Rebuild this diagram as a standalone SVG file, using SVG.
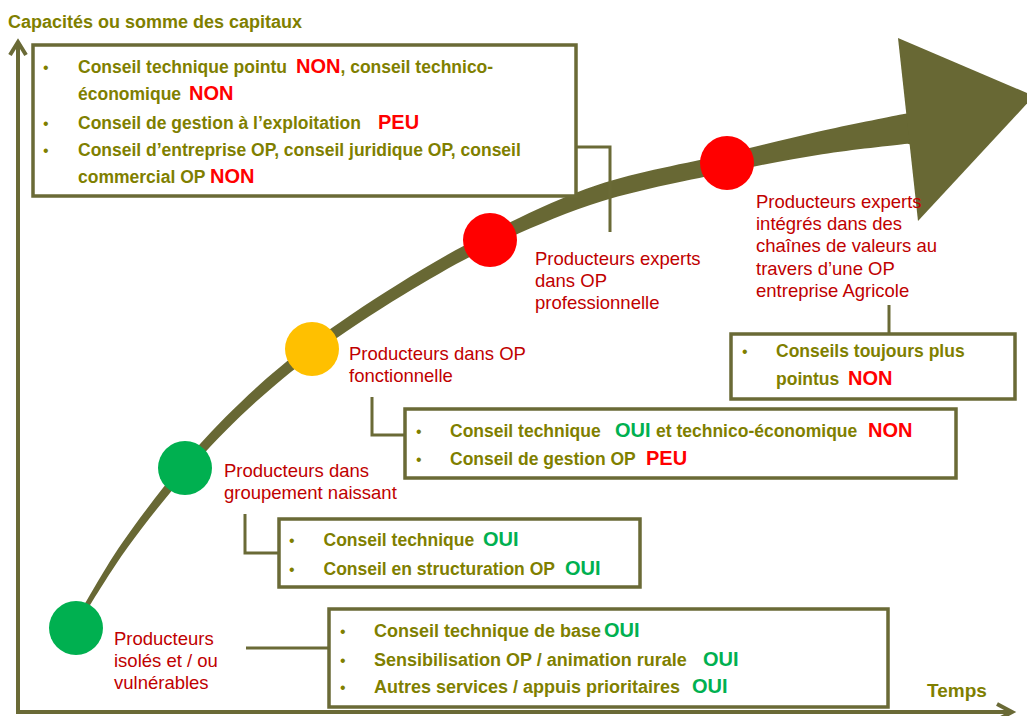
<svg xmlns="http://www.w3.org/2000/svg" width="1027" height="716" viewBox="0 0 1027 716">
  <style>
    .axis { fill: none; stroke: #6a6a36; stroke-width: 4; stroke-linejoin: miter; }
    .box { fill: #ffffff; stroke: #6a6a36; stroke-width: 3.5; }
    .conn { fill: none; stroke: #6a6a36; stroke-width: 3; }
    .t { font-family: "Liberation Sans", Arial, sans-serif; font-weight: bold; font-size: 17.5px; fill: #7f7f00; }
    .tb { font-size: 18px; }
    .r { fill: #ff0000; font-size: 20px; }
    .g { fill: #00b050; font-size: 20px; }
    .bul { font-family: "Liberation Sans", Arial, sans-serif; font-size: 16px; fill: #7f7f00; }
    .lbl { font-family: "Liberation Sans", Arial, sans-serif; font-size: 18.5px; fill: #c00000; }
    .title { font-family: "Liberation Sans", Arial, sans-serif; font-weight: bold; font-size: 18px; fill: #7f7f00; }
  </style>

  <rect width="1027" height="716" fill="#ffffff"/>

  <!-- Axes -->
  <g id="axes">
    <polyline class="axis" points="18,43 18,712 1012,712"/>
    <polyline class="axis" points="10,55 18,42 26,55"/>
    <polyline class="axis" points="997,704 1012,712 997,720"/>
    <text class="title" x="8" y="28">Capacités ou somme des capitaux</text>
    <text class="title" x="927" y="697" style="font-size:19px">Temps</text>
  </g>

  <!-- Growth trajectory: tapered band ending in a large arrowhead -->
  <g id="trajectory" fill="#686834">
    <path d="M81.9,608.7
      C88.6,597.8 105.5,566.9 122.1,543.0
      C138.7,519.1 161.7,488.7 181.6,465.1
      C201.5,441.5 220.4,421.5 241.6,401.4
      C262.8,381.3 282.8,364.0 308.7,344.6
      C334.6,325.2 367.3,303.3 396.9,284.9
      C426.5,266.5 452.7,250.9 486.1,234.2
      C519.5,217.5 557.6,198.2 597.4,184.9
      C637.2,171.6 688.3,163.1 725.0,154.2
      C761.7,145.3 788.2,138.4 817.8,131.7
      C847.4,125.0 888.4,117.1 902.5,114.2
      L915,112 L918,146 L907.5,143.8
      C893.3,145.6 852.0,149.6 822.2,154.3
      C792.5,159.0 765.6,164.0 729.0,171.8
      C692.4,179.6 642.1,188.8 602.6,201.1
      C563.1,213.5 525.2,230.2 491.9,245.9
      C458.7,261.6 432.5,277.2 403.1,295.1
      C373.7,313.0 341.1,334.5 315.3,353.4
      C289.5,372.3 269.6,389.1 248.4,408.7
      C227.3,428.3 208.5,447.9 188.4,470.9
      C168.3,494.0 145.0,523.6 127.9,547.0
      C110.9,570.4 93.1,600.6 86.1,611.3 Z"/>
    <polygon points="898,38 1034,96 918,221"/>
  </g>

  <!-- Connectors from stages to advice boxes -->
  <g id="connectors">
    <polyline class="conn" points="576,147 610,147 610,232"/>
    <polyline class="conn" points="889,305 889,334"/>
    <polyline class="conn" points="372,397 372,435 405,435"/>
    <polyline class="conn" points="245,514 245,553 279,553"/>
    <polyline class="conn" points="246,648 329,648"/>
  </g>

  <!-- Stage nodes -->
  <g id="stage-isoles">
    <circle cx="76" cy="628" r="27" fill="#00b050"/>
    <text class="lbl" x="114" y="645">Producteurs</text>
    <text class="lbl" x="114" y="667">isolés et / ou</text>
    <text class="lbl" x="114" y="689">vulnérables</text>
  </g>
  <g id="stage-groupement">
    <circle cx="185" cy="468" r="27" fill="#00b050"/>
    <text class="lbl" x="224" y="477">Producteurs dans</text>
    <text class="lbl" x="224" y="499">groupement naissant</text>
  </g>
  <g id="stage-op-fonctionnelle">
    <circle cx="312" cy="349" r="27" fill="#ffc000"/>
    <text class="lbl" x="349" y="360">Producteurs dans OP</text>
    <text class="lbl" x="349" y="382">fonctionnelle</text>
  </g>
  <g id="stage-op-professionnelle">
    <circle cx="490" cy="240" r="27" fill="#ff0000"/>
    <text class="lbl" x="535" y="265">Producteurs experts</text>
    <text class="lbl" x="535" y="287">dans OP</text>
    <text class="lbl" x="535" y="309">professionnelle</text>
  </g>
  <g id="stage-op-entreprise">
    <circle cx="727" cy="163" r="27" fill="#ff0000"/>
    <text class="lbl" x="756" y="208">Producteurs experts</text>
    <text class="lbl" x="756" y="230">intégrés dans des</text>
    <text class="lbl" x="756" y="252">chaînes de valeurs au</text>
    <text class="lbl" x="756" y="275">travers d’une OP</text>
    <text class="lbl" x="756" y="297">entreprise Agricole</text>
  </g>

  <!-- Advice boxes -->
  <g id="box-base">
    <rect class="box" x="329" y="609" width="559" height="98"/>
    <text class="bul" x="340" y="637">•</text>
    <text class="bul" x="340" y="666">•</text>
    <text class="bul" x="340" y="693">•</text>
    <text class="t tb" x="374" y="637">Conseil technique de base<tspan class="g" x="604">OUI</tspan></text>
    <text class="t tb" x="374" y="666">Sensibilisation OP / animation rurale<tspan class="g" x="703">OUI</tspan></text>
    <text class="t tb" x="374" y="693">Autres services / appuis prioritaires<tspan class="g" x="692">OUI</tspan></text>
  </g>

  <g id="box-structuration">
    <rect class="box" x="279" y="519" width="361" height="68"/>
    <text class="bul" x="289" y="546">•</text>
    <text class="bul" x="289" y="575">•</text>
    <text class="t" x="323.5" y="546">Conseil technique<tspan class="g" x="483">OUI</tspan></text>
    <text class="t" x="323.5" y="575">Conseil en structuration OP<tspan class="g" x="565">OUI</tspan></text>
  </g>

  <g id="box-fonctionnelle">
    <rect class="box" x="405" y="409" width="551" height="69"/>
    <text class="bul" x="416" y="437">•</text>
    <text class="bul" x="416" y="465">•</text>
    <text class="t" x="450" y="437">Conseil technique<tspan class="g" x="615">OUI</tspan><tspan x="656">et technico-économique</tspan><tspan class="r" x="868">NON</tspan></text>
    <text class="t" x="450" y="465">Conseil de gestion OP<tspan class="r" x="646">PEU</tspan></text>
  </g>

  <g id="box-entreprise">
    <rect class="box" x="731" y="334" width="284" height="65"/>
    <text class="bul" x="742" y="357">•</text>
    <text class="t" x="776" y="357">Conseils toujours plus</text>
    <text class="t" x="776" y="385">pointus<tspan class="r" x="848">NON</tspan></text>
  </g>

  <g id="box-professionnelle">
    <rect class="box" x="33" y="45" width="543" height="151"/>
    <text class="bul" x="43" y="73">•</text>
    <text class="bul" x="43" y="129">•</text>
    <text class="bul" x="43" y="156">•</text>
    <text class="t" x="78" y="73">Conseil technique pointu<tspan class="r" x="296">NON</tspan>, conseil technico-</text>
    <text class="t" x="78" y="100">économique<tspan class="r" x="189">NON</tspan></text>
    <text class="t" x="78" y="129">Conseil de gestion à l’exploitation<tspan class="r" x="378">PEU</tspan></text>
    <text class="t" x="78" y="156">Conseil d’entreprise OP, conseil juridique OP, conseil</text>
    <text class="t" x="78" y="183">commercial OP<tspan class="r" x="210">NON</tspan></text>
  </g>
</svg>
